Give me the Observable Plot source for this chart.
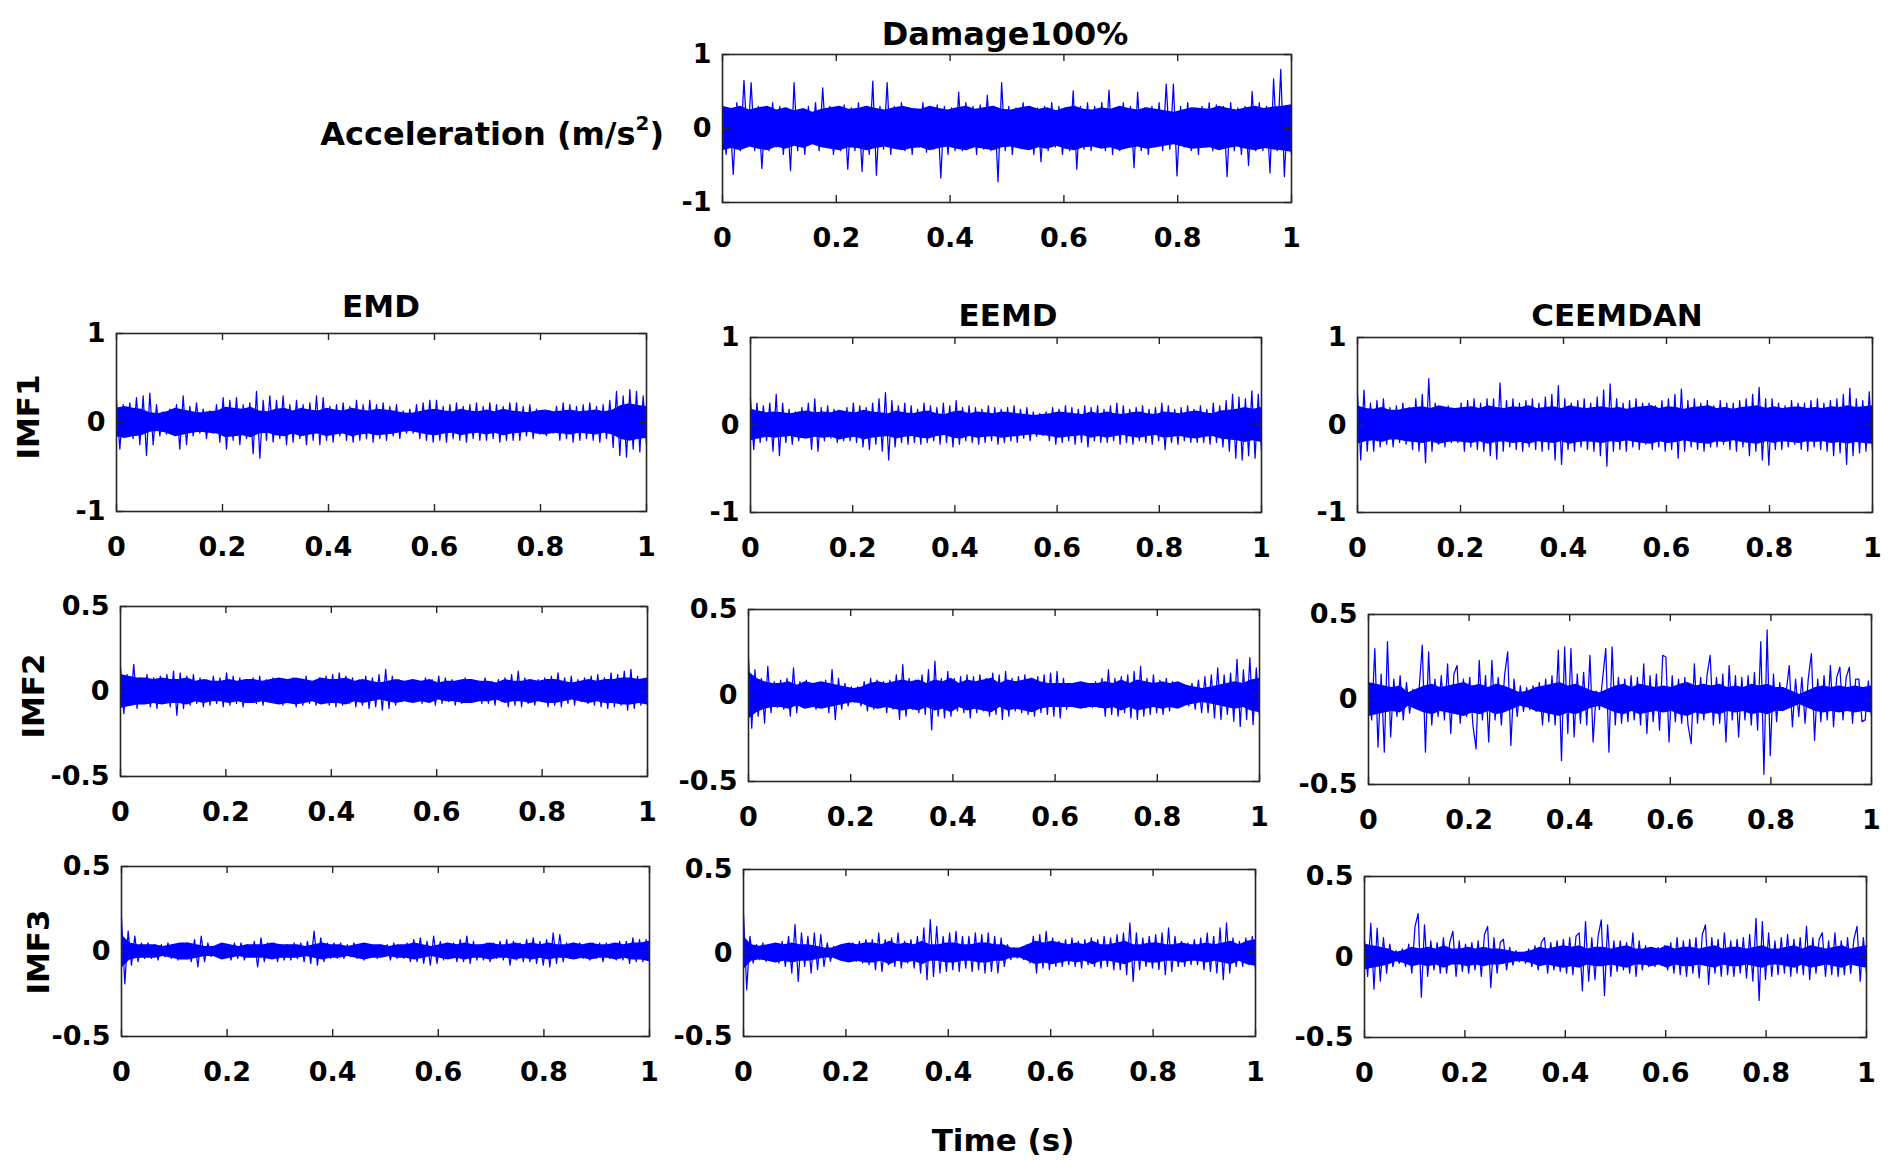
<!DOCTYPE html>
<html><head><meta charset="utf-8">
<script src="https://cdn.jsdelivr.net/npm/d3@7"></script>
<script src="https://cdn.jsdelivr.net/npm/@observablehq/plot@0.6"></script>
<style>
html,body{margin:0;padding:0;background:#fff;}
#fig{position:relative;width:1897px;height:1173px;background:#fff;overflow:hidden;font-family:"DejaVu Sans",sans-serif;font-weight:bold;color:#000;}
.panel{position:absolute;}
.lbl{position:absolute;white-space:nowrap;line-height:1;}
</style></head>
<body><div id="fig"></div>
<script>
const timeTicks = [0, 0.2, 0.4, 0.6, 0.8, 1];
const ticksOne = [-1, 0, 1];
const ticksHalf = [-0.5, 0, 0.5];

// signal samples
const damage100 = [.3,-.35,.25,-.62,.35,-.3,.65,-.25,.62,-.3,
.3,-.54,.25,-.3,.35,-.25,.3,-.35,.28,-.57,
.62,-.3,.25,-.35,.3,-.18,.35,-.3,.55,-.25,
.3,-.35,.15,-.3,.32,-.55,.28,-.3,.35,-.58,
.3,-.35,.64,-.63,.3,-.28,.62,-.35,.3,-.25,
.35,-.3,.28,-.35,.2,-.25,.35,-.32,.3,-.28,
.32,-.67,.3,-.35,.28,-.3,.49,-.3,.35,-.25,
.3,-.35,.32,-.28,.45,-.3,.3,-.72,.62,-.3,
.3,-.35,.28,-.2,.35,-.25,.3,-.35,.28,-.45,
.3,-.3,.35,-.25,.3,-.35,.18,-.3,.51,-.55,
.3,-.28,.35,-.3,.3,-.25,.35,-.3,.52,-.35,
.28,-.3,.35,-.25,.3,-.53,.49,-.3,.28,-.35,
.3,-.25,.35,-.3,.6,-.28,.6,-.64,.3,-.25,
.35,-.3,.28,-.35,.3,-.25,.35,-.3,.32,-.28,
.3,-.65,.35,-.3,.28,-.35,.3,-.5,.5,-.3,
.35,-.3,.3,-.6,.67,-.3,.8,-.65,.3,-.35];

const emdImf1 = [.25,-.3,.2,-.15,.22,-.18,.28,-.25,.3,-.37,
.33,-.25,.2,-.15,.12,-.13,.15,-.12,.2,-.3,
.3,-.25,.18,-.15,.22,-.12,.15,-.18,.13,-.12,
.2,-.22,.28,-.3,.25,-.2,.28,-.25,.2,-.18,
.22,-.35,.35,-.4,.25,-.2,.3,-.22,.25,-.18,
.3,-.25,.2,-.22,.25,-.18,.2,-.25,.22,-.2,
.3,-.25,.28,-.2,.18,-.22,.2,-.15,.22,-.2,
.18,-.22,.25,-.2,.2,-.18,.25,-.22,.2,-.18,
.22,-.2,.18,-.15,.2,-.18,.13,-.12,.15,-.12,
.2,-.18,.22,-.2,.25,-.22,.25,-.2,.18,-.22,
.2,-.18,.22,-.2,.18,-.22,.2,-.18,.22,-.2,
.18,-.2,.22,-.18,.2,-.22,.18,-.2,.22,-.2,
.22,-.2,.18,-.15,.2,-.18,.15,-.13,.12,-.15,
.13,-.12,.18,-.2,.22,-.18,.2,-.22,.18,-.2,
.2,-.18,.22,-.2,.18,-.22,.2,-.18,.25,-.28,
.35,-.37,.3,-.39,.37,-.3,.35,-.33,.3,-.25];

const eemdImf1 = [.3,-.28,.25,-.2,.22,-.18,.25,-.3,.35,-.35,
.25,-.2,.18,-.22,.15,-.18,.2,-.15,.25,-.28,
.3,-.3,.2,-.18,.22,-.15,.18,-.2,.15,-.18,
.2,-.18,.25,-.2,.22,-.25,.2,-.28,.25,-.22,
.3,-.3,.37,-.4,.28,-.25,.22,-.2,.25,-.22,
.22,-.2,.18,-.22,.25,-.2,.22,-.18,.2,-.22,
.25,-.2,.22,-.25,.28,-.22,.2,-.18,.22,-.2,
.2,-.22,.18,-.2,.22,-.18,.2,-.22,.18,-.2,
.2,-.18,.22,-.2,.18,-.15,.2,-.18,.15,-.13,
.13,-.12,.15,-.18,.2,-.22,.18,-.2,.22,-.18,
.2,-.22,.18,-.2,.22,-.25,.2,-.18,.22,-.2,
.18,-.2,.22,-.18,.25,-.22,.22,-.2,.18,-.22,
.2,-.18,.22,-.2,.18,-.22,.2,-.18,.25,-.28,
.22,-.2,.18,-.22,.2,-.18,.22,-.2,.18,-.2,
.22,-.2,.18,-.22,.25,-.2,.22,-.25,.28,-.3,
.35,-.38,.32,-.4,.3,-.35,.39,-.38,.35,-.3];

const ceemdanImf1 = [.35,-.4,.4,-.3,.25,-.3,.28,-.25,.3,-.22,
.2,-.25,.22,-.2,.25,-.22,.2,-.28,.3,-.3,
.35,-.43,.53,-.3,.25,-.22,.2,-.25,.22,-.2,
.18,-.2,.25,-.3,.28,-.25,.3,-.28,.25,-.3,
.3,-.35,.3,-.39,.48,-.3,.28,-.25,.3,-.28,
.25,-.3,.28,-.25,.3,-.28,.25,-.3,.32,-.28,
.35,-.4,.45,-.45,.3,-.28,.25,-.3,.28,-.25,
.3,-.28,.25,-.3,.32,-.35,.4,-.47,.47,-.3,
.3,-.28,.25,-.3,.28,-.25,.3,-.28,.25,-.22,
.25,-.28,.22,-.25,.28,-.3,.3,-.28,.35,-.38,
.41,-.3,.28,-.25,.3,-.28,.25,-.3,.28,-.25,
.22,-.25,.28,-.22,.25,-.28,.25,-.3,.28,-.25,
.3,-.35,.35,-.3,.43,-.4,.3,-.46,.3,-.28,
.25,-.28,.22,-.25,.28,-.22,.25,-.28,.25,-.3,
.28,-.25,.3,-.28,.25,-.3,.28,-.35,.3,-.32,
.35,-.45,.42,-.35,.3,-.32,.28,-.3,.38,-.3];

const emdImf2 = [.15,-.13,.1,-.08,.16,-.1,.08,-.07,.1,-.09,
.08,-.1,.09,-.07,.1,-.09,.12,-.14,.11,-.1,
.09,-.08,.1,-.07,.08,-.09,.07,-.08,.09,-.07,
.08,-.09,.11,-.08,.09,-.07,.08,-.09,.07,-.06,
.08,-.07,.09,-.08,.07,-.06,.08,-.07,.06,-.08,
.07,-.06,.08,-.09,.07,-.08,.09,-.07,.06,-.08,
.08,-.07,.09,-.08,.1,-.09,.11,-.08,.09,-.07,
.08,-.09,.07,-.08,.09,-.1,.08,-.09,.1,-.11,
.13,-.1,.09,-.08,.07,-.06,.05,-.06,.07,-.05,
.06,-.07,.08,-.06,.07,-.08,.09,-.07,.08,-.06,
.07,-.08,.06,-.07,.08,-.06,.07,-.05,.06,-.07,
.08,-.07,.06,-.08,.07,-.06,.08,-.09,.1,-.08,
.12,-.09,.08,-.07,.06,-.08,.07,-.06,.08,-.09,
.09,-.08,.11,-.09,.08,-.07,.09,-.08,.07,-.06,
.08,-.07,.09,-.08,.1,-.09,.08,-.1,.11,-.09,
.1,-.08,.12,-.11,.13,-.1,.09,-.08,.07,-.06];

const eemdImf2 = [.22,-.19,.15,-.12,.1,-.16,.17,-.1,.08,-.07,
.09,-.08,.1,-.12,.16,-.1,.08,-.07,.09,-.06,
.07,-.08,.06,-.07,.09,-.1,.15,-.14,.1,-.08,
.07,-.06,.05,-.04,.05,-.06,.08,-.09,.1,-.08,
.09,-.07,.08,-.1,.09,-.08,.12,-.14,.18,-.12,
.1,-.08,.09,-.1,.12,-.11,.15,-.2,.2,-.12,
.1,-.13,.14,-.12,.1,-.09,.11,-.1,.12,-.13,
.11,-.1,.12,-.09,.1,-.12,.13,-.11,.12,-.14,
.14,-.12,.1,-.09,.11,-.1,.12,-.11,.1,-.12,
.11,-.1,.12,-.11,.13,-.12,.14,-.13,.1,-.08,
.07,-.06,.07,-.06,.07,-.07,.06,-.07,.08,-.07,
.1,-.12,.15,-.11,.1,-.12,.11,-.1,.12,-.13,
.14,-.14,.17,-.12,.1,-.11,.12,-.1,.09,-.11,
.1,-.09,.08,-.07,.06,-.05,.05,-.06,.07,-.08,
.09,-.1,.11,-.1,.12,-.13,.16,-.14,.12,-.11,
.13,-.15,.21,-.18,.15,-.14,.22,-.17,.16,-.12];

const ceemdanImf2 = [.1,-.12,.3,-.28,.15,-.31,.34,-.22,.12,-.1,
.14,-.12,.1,-.08,.06,-.05,.06,.32,-.31,.28,
-.15,.12,-.1,.14,-.12,.21,-.2,.15,.2,-.14,
.12,-.1,.13,-.15,-.29,.23,-.12,.14,-.25,.23,
-.12,.13,-.15,.14,.28,-.27,.12,-.1,.08,-.07,
.07,-.06,.08,-.07,.1,-.15,.12,-.13,.14,-.15,
.29,-.36,.31,-.2,.3,-.22,.15,-.14,.16,-.15,
.26,-.25,.05,-.06,.12,.3,-.31,.31,-.15,.13,
-.14,.12,-.13,.14,-.12,.13,-.15,.21,-.2,.14,
-.13,.15,-.18,.26,.25,-.25,.14,-.13,.12,-.14,
.13,-.15,-.26,.21,-.14,.13,-.12,.14,.26,-.15,
.13,-.14,.15,-.25,.2,-.12,.14,-.22,.13,-.12,
.14,-.15,.16,-.18,.34,-.44,.41,-.33,.15,-.13,
.1,-.06,.04,.2,-.16,.12,-.1,.13,-.14,.12,
.27,-.24,.12,-.13,.14,-.12,.2,-.16,.13,.19,
-.12,.13,.19,-.14,.12,.12,-.13,-.12,.11,-.1];

const emdImf3 = [.2,-.19,.12,-.08,.09,-.06,.05,-.04,.05,-.04,
.04,-.05,.04,-.03,.05,-.04,.04,-.05,.04,-.03,
.05,-.06,.07,-.09,.09,-.06,.05,-.03,.02,-.02,
.03,-.02,.04,-.05,.05,-.04,.05,-.05,.04,-.03,
.06,-.09,.08,-.06,.05,-.04,.05,-.06,.04,-.05,
.04,-.05,.05,-.04,.05,-.06,.06,-.07,.12,-.08,
.08,-.06,.05,-.04,.05,-.04,.05,-.04,.04,-.03,
.05,-.04,.04,-.05,.04,-.03,.03,-.04,.04,-.03,
.04,-.05,.05,-.04,.03,-.04,.05,-.06,.07,-.06,
.08,-.07,.06,-.08,.09,-.07,.06,-.05,.05,-.04,
.05,-.06,.07,-.06,.09,-.07,.06,-.05,.04,-.05,
.05,-.06,.05,-.04,.06,-.05,.07,-.08,.06,-.05,
.05,-.06,.07,-.06,.08,-.07,.06,-.08,.07,-.09,
.11,-.07,.1,-.06,.05,-.04,.05,-.04,.05,-.04,
.04,-.05,.05,-.04,.05,-.06,.05,-.04,.05,-.05,
.06,-.05,.06,-.07,.08,-.06,.07,-.06,.07,-.06];

const eemdImf3 = [.24,-.22,.1,-.06,.05,-.04,.06,-.05,.04,-.05,
.05,-.06,.07,-.08,.1,-.12,.17,-.17,.12,-.08,
.1,-.12,.12,-.1,.11,-.08,.06,-.05,.04,-.03,
.03,-.02,.04,-.05,.06,-.05,.07,-.06,.08,-.07,
.08,-.1,.12,-.11,.08,-.07,.09,-.08,.12,-.09,
.07,-.06,.08,-.09,.1,-.12,.15,-.16,.2,-.14,
.16,-.12,.1,-.11,.12,-.1,.13,-.11,.1,-.09,
.1,-.11,.12,-.1,.11,-.12,.12,-.11,.1,-.12,
.09,-.08,.05,-.04,.03,-.03,.03,-.04,.05,-.06,
.1,-.12,.11,-.09,.13,-.1,.09,-.08,.07,-.08,
.08,-.07,.09,-.08,.07,-.09,.08,-.07,.09,-.08,
.08,-.09,.1,-.08,.09,-.1,.11,-.1,.12,-.13,
.18,-.17,.12,-.1,.09,-.08,.1,-.09,.11,-.1,
.12,-.13,.15,-.11,.1,-.08,.07,-.08,.06,-.07,
.08,-.07,.09,-.1,.12,-.11,.1,-.12,.15,-.16,
.18,-.12,.09,-.08,.07,-.08,.09,-.07,.1,-.1];

const ceemdanImf3 = [.1,-.12,.21,-.2,.18,-.15,.12,-.1,.08,-.06,
.04,-.04,.05,-.06,.08,-.1,.19,.27,-.25,.2,
-.12,.1,-.08,.09,-.1,.12,-.1,.09,.16,-.12,
.1,-.09,.08,-.1,.09,-.08,.1,-.12,.14,.19,
-.19,.12,-.1,.09,.11,-.08,.06,-.05,.04,-.03,
.03,-.04,.05,-.06,.07,-.08,.09,.12,-.1,.09,
-.08,.1,-.09,.11,-.1,.12,-.11,.13,.15,-.21,
.22,-.15,.12,-.14,.13,.23,-.24,.2,-.12,.1,
-.09,.1,-.08,.09,-.1,.15,-.12,.1,-.08,.07,
-.06,.05,-.06,.06,-.05,.07,-.08,.09,-.1,.12,
-.11,.1,-.12,.11,-.1,.12,-.13,.14,.2,-.17,
.12,-.1,.11,-.12,.15,-.11,.1,-.12,.11,-.1,
.12,-.13,.14,-.15,.24,-.27,.22,-.14,.15,-.12,
.1,-.11,.12,-.1,.14,-.12,.11,-.1,.12,-.11,
.19,-.14,.12,-.1,.11,.15,-.12,.1,-.11,.15,
-.12,.1,-.11,.12,-.1,.11,.19,-.15,.12,-.1];

// half-width of the densely filled core of each trace (read at 64 even steps over 0..1 s)
const damage100Core = [.3,.27,.3,.25,.28,.3,.25,.28,.24,.27,.22,.26,.28,.3,.26,.27,.3,.27,.25,.28,.3,.27,.26,.3,.27,.25,.28,.3,.26,.28,.3,.26,
.25,.28,.3,.26,.28,.24,.28,.3,.26,.25,.28,.26,.3,.27,.25,.28,.26,.24,.22,.25,.28,.27,.26,.3,.27,.25,.28,.3,.27,.29,.3,.32];
const emdImf1Core = [.16,.18,.16,.15,.11,.1,.12,.16,.14,.12,.11,.12,.13,.17,.16,.15,.17,.13,.12,.15,.16,.13,.16,.14,.13,.16,.14,.13,.16,.14,.13,.15,
.14,.13,.11,.1,.12,.14,.15,.13,.12,.15,.13,.12,.14,.12,.15,.13,.12,.11,.13,.14,.12,.13,.14,.12,.13,.14,.12,.14,.19,.21,.19,.18];
const eemdImf1Core = [.18,.16,.14,.15,.14,.13,.15,.16,.14,.15,.14,.17,.15,.14,.17,.15,.14,.13,.16,.14,.13,.15,.16,.13,.12,.15,.16,.13,.15,.14,.13,.15,
.14,.13,.12,.11,.12,.13,.15,.14,.13,.12,.15,.13,.15,.13,.12,.14,.15,.13,.12,.15,.14,.13,.15,.16,.14,.13,.16,.17,.18,.2,.18,.2];
const ceemdanImf1Core = [.22,.19,.18,.2,.17,.17,.19,.2,.21,.19,.22,.2,.19,.2,.21,.19,.22,.2,.19,.21,.2,.22,.19,.2,.21,.19,.22,.2,.19,.2,.21,.19,
.2,.18,.2,.21,.22,.19,.21,.2,.18,.2,.21,.22,.19,.2,.18,.2,.21,.22,.19,.21,.19,.2,.21,.19,.2,.19,.21,.2,.22,.2,.21,.22];
const emdImf2Core = [.1,.09,.08,.08,.07,.08,.07,.07,.08,.06,.07,.06,.06,.07,.06,.07,.07,.06,.07,.08,.07,.08,.07,.06,.08,.07,.07,.08,.06,.07,.06,.05,
.06,.07,.06,.07,.06,.07,.05,.06,.06,.07,.07,.06,.06,.05,.07,.06,.06,.07,.06,.07,.07,.06,.05,.06,.07,.06,.07,.07,.08,.08,.07,.08];
const eemdImf2Core = [.14,.1,.08,.07,.07,.08,.06,.08,.07,.08,.07,.06,.05,.04,.05,.07,.08,.07,.08,.09,.08,.09,.07,.09,.08,.1,.07,.09,.08,.09,.1,.07,
.09,.08,.09,.1,.08,.07,.07,.07,.07,.08,.07,.07,.08,.07,.09,.07,.09,.08,.07,.08,.07,.08,.06,.05,.04,.05,.06,.07,.08,.07,.09,.1];
const ceemdanImf2Core = [.1,.09,.08,.07,.08,.04,.06,.08,.09,.07,.08,.09,.1,.08,.09,.07,.09,.08,.06,.04,.05,.07,.08,.09,.1,.08,.09,.07,.05,.04,.06,.08,
.09,.07,.09,.08,.07,.08,.07,.09,.1,.08,.09,.08,.09,.07,.08,.07,.09,.08,.09,.07,.07,.05,.03,.05,.07,.08,.07,.08,.07,.08,.07,.08];
const emdImf3Core = [.1,.05,.04,.04,.04,.03,.04,.05,.05,.04,.03,.03,.05,.04,.03,.04,.04,.04,.05,.04,.04,.04,.03,.04,.05,.04,.04,.03,.04,.05,.04,.04,
.03,.04,.04,.05,.04,.03,.04,.05,.04,.05,.04,.04,.05,.04,.04,.05,.04,.05,.04,.05,.04,.04,.05,.04,.05,.04,.04,.05,.04,.05,.05,.06];
const eemdImf3Core = [.1,.05,.04,.05,.06,.05,.06,.05,.05,.04,.03,.03,.05,.06,.05,.06,.06,.05,.07,.05,.06,.05,.07,.05,.05,.06,.06,.05,.05,.06,.06,.05,
.05,.03,.03,.05,.07,.06,.07,.06,.05,.06,.05,.07,.05,.05,.06,.07,.05,.05,.06,.06,.05,.05,.06,.05,.05,.06,.05,.06,.07,.05,.07,.08];
const ceemdanImf3Core = [.08,.07,.06,.05,.03,.04,.06,.05,.06,.05,.07,.05,.05,.06,.05,.06,.05,.05,.04,.03,.03,.04,.06,.05,.06,.07,.06,.07,.05,.06,.06,.05,
.06,.07,.05,.05,.06,.05,.07,.05,.06,.06,.05,.06,.07,.05,.06,.06,.05,.06,.07,.05,.05,.06,.07,.05,.07,.06,.05,.06,.07,.05,.06,.07];

// ---- layout (frame box in page pixels) ----
const panels = [
  {values: damage100,   core: damage100Core,   yTicks: ticksOne,  L: 722,  R: 1291, T: 54,  B: 202},
  {values: emdImf1,     core: emdImf1Core,     yTicks: ticksOne,  L: 116,  R: 646,  T: 333, B: 511},
  {values: eemdImf1,    core: eemdImf1Core,    yTicks: ticksOne,  L: 750,  R: 1261, T: 337, B: 512},
  {values: ceemdanImf1, core: ceemdanImf1Core, yTicks: ticksOne,  L: 1357, R: 1872, T: 337, B: 512},
  {values: emdImf2,     core: emdImf2Core,     yTicks: ticksHalf, L: 120,  R: 647,  T: 606, B: 776},
  {values: eemdImf2,    core: eemdImf2Core,    yTicks: ticksHalf, L: 748,  R: 1259, T: 609, B: 781},
  {values: ceemdanImf2, core: ceemdanImf2Core, yTicks: ticksHalf, L: 1368, R: 1871, T: 614, B: 784},
  {values: emdImf3,     core: emdImf3Core,     yTicks: ticksHalf, L: 121,  R: 649,  T: 866, B: 1036},
  {values: eemdImf3,    core: eemdImf3Core,    yTicks: ticksHalf, L: 743,  R: 1255, T: 869, B: 1036},
  {values: ceemdanImf3, core: ceemdanImf3Core, yTicks: ticksHalf, L: 1364, R: 1866, T: 876, B: 1037}
];

const labels = [
  {text: "Damage100%", x: 1005, y: 34, size: 32},
  {text: "EMD", x: 381, y: 306, size: 31},
  {text: "EEMD", x: 1008, y: 315, size: 31},
  {text: "CEEMDAN", x: 1617, y: 315, size: 31},
  {text: "IMF1", x: 28, y: 417, size: 31, rotate: true},
  {text: "IMF2", x: 33, y: 696, size: 31, rotate: true},
  {text: "IMF3", x: 38, y: 952, size: 31, rotate: true},
  {text: "Time (s)", x: 1003, y: 1140, size: 31}
];

const fig = document.getElementById("fig");
const fmt = d => String(d);
const mL = 90, mR = 12, mT = 12, mB = 60;
const ink = "#262626";
const tickPx = 7;

for (const p of panels) {
  const data = p.values.map((v, i) => ({t: i / (p.values.length - 1), v}));
  const band = p.core.map((c, i) => ({t: i / (p.core.length - 1), lo: -c, hi: c}));
  const yMax = p.yTicks[p.yTicks.length - 1];
  const w = p.R - p.L, h = p.B - p.T;
  const ty = tickPx / h * 2 * yMax;   // tick length in y units
  const tx = tickPx / w;              // tick length in x units
  const chart = Plot.plot({
    width: w + mL + mR,
    height: h + mT + mB,
    marginLeft: mL, marginRight: mR, marginTop: mT, marginBottom: mB,
    x: {domain: [0, 1], label: null},
    y: {domain: [-yMax, yMax], label: null},
    style: {fontFamily: "'DejaVu Sans', sans-serif", fontWeight: "bold", fontSize: "27px", color: "#000", background: "transparent", overflow: "visible"},
    marks: [
      Plot.areaY(band, {x: "t", y1: "lo", y2: "hi", fill: "#0000ff", curve: "linear"}),
      Plot.line(data, {x: "t", y: "v", stroke: "#0000ff", strokeWidth: 1.25}),
      Plot.ruleX(timeTicks, {x: d => d, y1: -yMax, y2: -yMax + ty, stroke: ink, strokeWidth: 1.4}),
      Plot.ruleX(timeTicks, {x: d => d, y1: yMax, y2: yMax - ty, stroke: ink, strokeWidth: 1.4}),
      Plot.ruleY(p.yTicks, {y: d => d, x1: 0, x2: tx, stroke: ink, strokeWidth: 1.4}),
      Plot.ruleY(p.yTicks, {y: d => d, x1: 1, x2: 1 - tx, stroke: ink, strokeWidth: 1.4}),
      Plot.frame({stroke: ink, strokeWidth: 1.6}),
      Plot.axisX({ticks: timeTicks, anchor: "bottom", tickSize: 0, tickPadding: 25, tickFormat: fmt, label: null, fill: "#000"}),
      Plot.axisY({ticks: p.yTicks, anchor: "left", tickSize: 0, tickPadding: 11, tickFormat: fmt, label: null, fill: "#000"})
    ]
  });
  const wrap = document.createElement("div");
  wrap.className = "panel";
  wrap.style.left = (p.L - mL) + "px";
  wrap.style.top = (p.T - mT) + "px";
  wrap.appendChild(chart);
  fig.appendChild(wrap);
}

for (const l of labels) {
  const d = document.createElement("div");
  d.className = "lbl";
  d.textContent = l.text;
  d.style.fontSize = l.size + "px";
  d.style.left = l.x + "px";
  d.style.top = l.y + "px";
  d.style.transform = "translate(-50%,-50%)" + (l.rotate ? " rotate(-90deg)" : "");
  fig.appendChild(d);
}

// y-axis title of the top panel, right-aligned next to its tick labels
const acc = document.createElement("div");
acc.className = "lbl";
acc.innerHTML = "Acceleration (m/s<sup style=\"font-size:0.62em;vertical-align:0.75em;line-height:0\">2</sup>)";
acc.style.fontSize = "32px";
acc.style.right = (1897 - 664) + "px";
acc.style.top = "134px";
acc.style.transform = "translateY(-50%)";
fig.appendChild(acc);
</script>
</body></html>
